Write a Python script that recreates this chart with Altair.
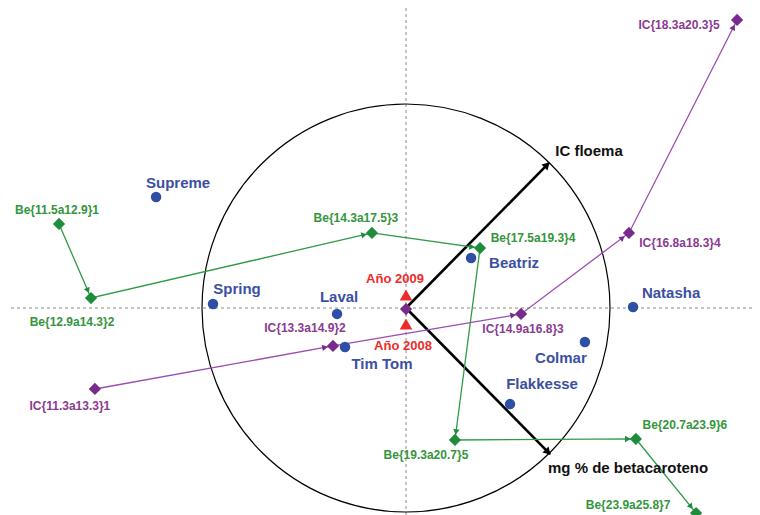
import altair as alt
import pandas as pd
import numpy as np

# ---- data (biplot coordinates; circle of correlation has radius 1) ----
cult_names = ["Supreme", "Spring", "Laval", "Tim Tom", "Beatriz", "Natasha", "Colmar", "Flakkesse"]
cult_x = [-1.225, -0.946, -0.338, -0.299, 0.319, 1.113, 0.877, 0.510]
cult_y = [0.544, 0.020, -0.029, -0.191, 0.245, 0.005, -0.167, -0.471]

year_names = ["Año 2009", "Año 2008"]
year_x = [0.0, 0.0]
year_y = [0.064, -0.078]

vec_names = ["IC floema", "mg % de betacaroteno"]
vec_x = [0.701, 0.706]
vec_y = [0.711, -0.716]

be_names = ["Be{11.5a12.9}1", "Be{12.9a14.3}2", "Be{14.3a17.5}3", "Be{17.5a19.3}4",
            "Be{19.3a20.7}5", "Be{20.7a23.9}6", "Be{23.9a25.8}7"]
be_x = [-1.701, -1.544, -0.167, 0.363, 0.240, 1.127, 1.422]
be_y = [0.412, 0.049, 0.368, 0.294, -0.647, -0.642, -1.005]

ic_names = ["IC{11.3a13.3}1", "IC{13.3a14.9}2", "IC{14.9a16.8}3", "IC{16.8a18.3}4", "IC{18.3a20.3}5"]
ic_x = [-1.525, -0.358, 0.564, 1.093, 1.623]
ic_y = [-0.397, -0.186, -0.029, 0.368, 1.412]

origin_x = [0.0]
origin_y = [-0.005]

# ---- label offsets (pixels) ----
cult_dx = [22, 24, 2, 37, 43, 38, -24, 32]
cult_dy = [-14, -15, -17, 17, 5, -14, 16, -20]
year_dx = [-11, -3]
year_dy = [-16, 22]
vec_dx = [40, 78]
vec_dy = [-12, 14]
be_dx = [-2, -19, -16, 53, -29, 49, -68]
be_dy = [-14, 24, -15, -10, 15, -14, -8]
ic_dx = [-25, -28, 2, 51, -58]
ic_dy = [17, -18, 15, 10, 5]

PX = 204.0  # pixels per unit
W, H = 744, 507
XDOM = [(8 - 406) / PX, (752 - 406) / PX]
YDOM = [(308 - 515) / PX, (308 - 8) / PX]

xs = alt.Scale(domain=XDOM, nice=False, zero=False)
ys = alt.Scale(domain=YDOM, nice=False, zero=False)
X = lambda f="x": alt.X(f"{f}:Q", scale=xs, axis=None)
Y = lambda f="y": alt.Y(f"{f}:Q", scale=ys, axis=None)

FONT = "Liberation Sans"
GREEN = "#1f8c3c"
GREEN_L = "#2f9a48"
GREEN_T = "#34963c"
PURPLE = "#7a2a8c"
PURPLE_L = "#9a4cb0"
PURPLE_T = "#8a3a92"
BLUE = "#2f4fa6"
BLUE_T = "#3b50a2"
RED = "#ee2b2b"


def labels(names, x, y, dx, dy):
    return pd.DataFrame({
        "name": names,
        "x": [a + d / PX for a, d in zip(x, dx)],
        "y": [b - d / PX for b, d in zip(y, dy)],
    })


def heads(x, y, back):
    rows = []
    for i in range(1, len(x)):
        ddx = x[i] - x[i - 1]
        ddy = y[i] - y[i - 1]
        L = np.hypot(ddx, ddy)
        rows.append({"x": x[i] - ddx / L * back / PX,
                     "y": y[i] - ddy / L * back / PX,
                     "angle": float(np.degrees(np.arctan2(ddx, ddy)) % 360)})
    return pd.DataFrame(rows)


zero_df = pd.DataFrame({"x": [0.0], "y": [0.0]})

vline = alt.Chart(zero_df).mark_rule(color="#8a8a8a", strokeDash=[3, 3], strokeWidth=1).encode(x=X())
hline = alt.Chart(zero_df).mark_rule(color="#8a8a8a", strokeDash=[3, 3], strokeWidth=1).encode(y=Y())

circle = alt.Chart(zero_df).mark_point(shape="circle", size=(2 * PX) ** 2, filled=False,
                                       color="black", strokeWidth=1.2, opacity=1).encode(x=X(), y=Y())

vec_df = pd.DataFrame({"x": [0.0, 0.0], "y": [0.0, 0.0], "x2": vec_x, "y2": vec_y})
vectors = alt.Chart(vec_df).mark_rule(color="black", strokeWidth=2.6).encode(
    x=X(), y=Y(), x2="x2:Q", y2="y2:Q")
vec_heads = heads([0.0, vec_x[0]], [0.0, vec_y[0]], 4)
vec_heads = pd.concat([vec_heads, heads([0.0, vec_x[1]], [0.0, vec_y[1]], 4)])
vec_head_marks = alt.Chart(vec_heads).mark_point(shape="triangle", size=70, filled=True,
                                                 color="black", opacity=1).encode(
    x=X(), y=Y(), angle=alt.Angle("angle:Q", scale=None))

be_df = pd.DataFrame({"x": be_x, "y": be_y, "i": list(range(len(be_x)))})
ic_df = pd.DataFrame({"x": ic_x, "y": ic_y, "i": list(range(len(ic_x)))})

be_line = alt.Chart(be_df).mark_line(color=GREEN_L, strokeWidth=1.3).encode(x=X(), y=Y(), order="i:Q")
ic_line = alt.Chart(ic_df).mark_line(color=PURPLE_L, strokeWidth=1.3).encode(x=X(), y=Y(), order="i:Q")

be_heads = alt.Chart(heads(be_x, be_y, 9)).mark_point(shape="triangle", size=40, filled=True,
                                                       color=GREEN, opacity=1).encode(
    x=X(), y=Y(), angle=alt.Angle("angle:Q", scale=None))
ic_heads = alt.Chart(heads(ic_x, ic_y, 9)).mark_point(shape="triangle", size=40, filled=True,
                                                       color=PURPLE, opacity=1).encode(
    x=X(), y=Y(), angle=alt.Angle("angle:Q", scale=None))

be_pts = alt.Chart(be_df).mark_point(shape="diamond", size=150, filled=True, color=GREEN,
                                     opacity=1).encode(x=X(), y=Y())
ic_pts = alt.Chart(ic_df).mark_point(shape="diamond", size=150, filled=True, color=PURPLE,
                                     opacity=1).encode(x=X(), y=Y())
origin_pt = alt.Chart(pd.DataFrame({"x": origin_x, "y": origin_y})).mark_point(
    shape="diamond", size=150, filled=True, color=PURPLE, opacity=1).encode(x=X(), y=Y())

cult_pts = alt.Chart(pd.DataFrame({"x": cult_x, "y": cult_y})).mark_point(
    shape="circle", size=110, filled=True, color=BLUE, opacity=1).encode(x=X(), y=Y())
year_pts = alt.Chart(pd.DataFrame({"x": year_x, "y": year_y})).mark_point(
    shape="triangle-up", size=160, filled=True, color=RED, opacity=1).encode(x=X(), y=Y())


def text_layer(df, color, size):
    return alt.Chart(df).mark_text(font=FONT, fontWeight="bold", fontSize=size, color=color,
                                   align="center", baseline="middle").encode(
        x=X(), y=Y(), text="name:N")


t_cult = text_layer(labels(cult_names, cult_x, cult_y, cult_dx, cult_dy), BLUE_T, 15)
t_year = text_layer(labels(year_names, year_x, year_y, year_dx, year_dy), RED, 13)
t_vec = text_layer(labels(vec_names, vec_x, vec_y, vec_dx, vec_dy), "#111111", 15)
t_be = text_layer(labels(be_names, be_x, be_y, be_dx, be_dy), GREEN_T, 12)
t_ic = text_layer(labels(ic_names, ic_x, ic_y, ic_dx, ic_dy), PURPLE_T, 12)

chart = alt.layer(
    vline, hline, circle, vectors, vec_head_marks,
    be_line, ic_line, be_heads, ic_heads,
    cult_pts, year_pts, be_pts, ic_pts, origin_pt,
    t_cult, t_year, t_vec, t_be, t_ic,
).properties(
    width=W, height=H, autosize=alt.AutoSizeParams(type="none"), padding=0,
).configure_view(strokeWidth=0)

chart.save("out.html", embed_options={"renderer": "svg", "actions": False})
